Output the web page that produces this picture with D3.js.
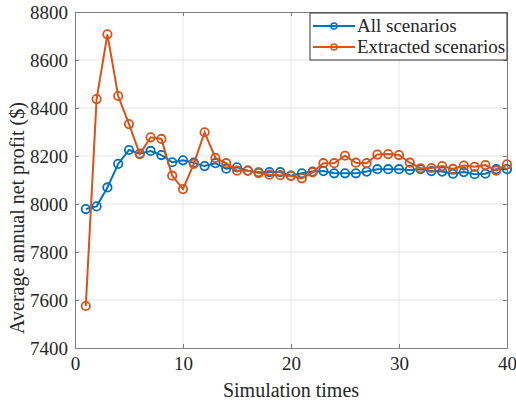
<!DOCTYPE html>
<html>
<head>
<meta charset="utf-8">
<script src="https://cdn.jsdelivr.net/npm/d3@7"></script>
<style>
body { margin: 0; background: #fff; }
text { font-family: "Liberation Serif", "Times New Roman", Times, serif; fill: #262626; }
</style>
</head>
<body>
<svg></svg>
<script>
let width = 516
let height = 405
let margin = {top: 12, right: 9, bottom: 57, left: 75}

let simTimes = d3.range(1, 41)
let allScenarios = [
    7979, 7990, 8069, 8167, 8225, 8210, 8221, 8204, 8174, 8182,
    8172, 8158, 8170, 8147, 8153, 8139, 8132, 8133, 8133, 8118,
    8128, 8135, 8137, 8128, 8128, 8128, 8135, 8145, 8145, 8145,
    8142, 8145, 8137, 8135, 8126, 8133, 8124, 8126, 8145, 8145
]
let extractedScenarios = [
    7575, 8437, 8707, 8450, 8333, 8208, 8278, 8271, 8118, 8062,
    8167, 8299, 8192, 8170, 8139, 8139, 8129, 8122, 8120, 8117,
    8107, 8132, 8170, 8170, 8201, 8172, 8170, 8206, 8208, 8204,
    8172, 8149, 8150, 8158, 8146, 8160, 8155, 8162, 8139, 8165
]
let seriesNames = ['All scenarios', 'Extracted scenarios']
let seriesColors = ['#0072BD', '#D95319']
let xTicks = [0, 10, 20, 30, 40]
let yTicks = [7400, 7600, 7800, 8000, 8200, 8400, 8600, 8800]

let svg = d3.select('svg')
    .attr('width', width)
    .attr('height', height)

let x = d3.scaleLinear().domain([0, 40]).range([margin.left, width - margin.right])
let y = d3.scaleLinear().domain([7400, 8800]).range([height - margin.bottom, margin.top])

// grid
svg.append('g').selectAll('line')
    .data(xTicks.slice(1, -1)).enter()
    .append('line')
    .attr('x1', d => x(d)).attr('x2', d => x(d))
    .attr('y1', y(7400)).attr('y2', y(8800))
    .style('stroke', '#e6e6e6')
svg.append('g').selectAll('line')
    .data(yTicks.slice(1, -1)).enter()
    .append('line')
    .attr('x1', x(0)).attr('x2', x(40))
    .attr('y1', d => y(d)).attr('y2', d => y(d))
    .style('stroke', '#e6e6e6')

// axes, ticks inward
let xAxis = svg.append('g')
    .attr('transform', `translate(0,${y(7400)})`)
    .call(d3.axisBottom(x).tickValues(xTicks).tickSize(-4).tickPadding(9))
let yAxis = svg.append('g')
    .attr('transform', `translate(${x(0)},0)`)
    .call(d3.axisLeft(y).tickValues(yTicks).tickSize(-4).tickPadding(7).tickFormat(d3.format('d')))
let xAxisTop = svg.append('g')
    .attr('transform', `translate(0,${y(8800)})`)
    .call(d3.axisTop(x).tickValues(xTicks).tickSize(-4).tickFormat(''))
let yAxisRight = svg.append('g')
    .attr('transform', `translate(${x(40)},0)`)
    .call(d3.axisRight(y).tickValues(yTicks).tickSize(-4).tickFormat(''))
;[xAxis, yAxis, xAxisTop, yAxisRight].forEach(g => {
    g.attr('font-family', null).attr('font-size', null)
    g.selectAll('path, line').style('stroke', '#808080')
    g.selectAll('text').style('font-size', '19px').style('fill', '#262626')
})

svg.append('text')
    .attr('x', (x(0) + x(40)) / 2)
    .attr('y', height - 8)
    .attr('text-anchor', 'middle')
    .style('font-size', '20px')
    .text('Simulation times')
svg.append('text')
    .attr('transform', `translate(24,218) rotate(-90)`)
    .attr('text-anchor', 'middle')
    .style('font-size', '20px')
    .text('Average annual net profit ($)')

let series = [allScenarios, extractedScenarios]
let line = d3.line()
    .x((d, i) => x(simTimes[i]))
    .y(d => y(d))

series.forEach((values, k) => {
    let g = svg.append('g')
    g.append('path')
        .datum(values)
        .attr('d', line)
        .style('fill', 'none')
        .style('stroke', seriesColors[k])
        .style('stroke-width', 2)
    g.selectAll('circle')
        .data(values).enter()
        .append('circle')
        .attr('cx', (d, i) => x(simTimes[i]))
        .attr('cy', d => y(d))
        .attr('r', 4.2)
        .style('fill', 'none')
        .style('stroke', seriesColors[k])
        .style('stroke-width', 1.8)
})

// legend
let legend = svg.append('g').attr('transform', `translate(310,${margin.top + 1})`)
legend.append('rect')
    .attr('width', x(40) - 310)
    .attr('height', 47)
    .style('fill', '#fff')
    .style('stroke', '#333')
    .style('stroke-width', 1)
seriesNames.forEach((name, k) => {
    let ly = 13 + k * 21
    legend.append('line')
        .attr('x1', 3).attr('x2', 45)
        .attr('y1', ly).attr('y2', ly)
        .style('stroke', seriesColors[k])
        .style('stroke-width', 2)
    legend.append('circle')
        .attr('cx', 24).attr('cy', ly).attr('r', 3)
        .style('fill', 'none')
        .style('stroke', seriesColors[k])
        .style('stroke-width', 1.5)
    legend.append('text')
        .attr('x', 47).attr('y', ly + 6)
        .style('font-size', '19px')
        .text(name)
})
</script>
</body>
</html>
